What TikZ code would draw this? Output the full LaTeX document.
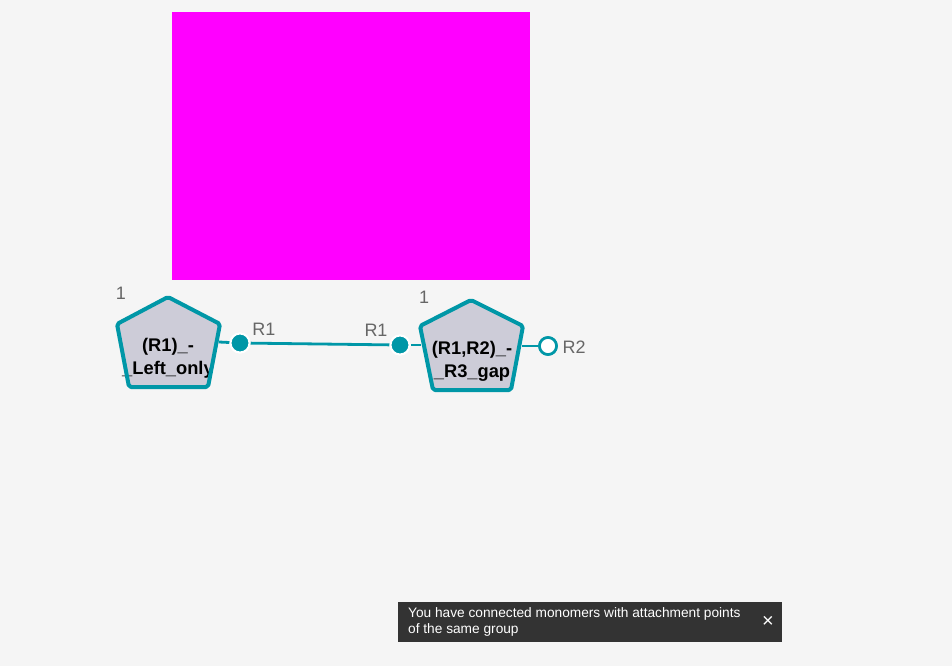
\documentclass[tikz,border=0pt]{standalone}
\usepackage{fontspec}
\setmainfont{Liberation Sans}
\definecolor{bg}{HTML}{F5F5F5}
\definecolor{teal}{HTML}{0097A7}
\definecolor{monofill}{HTML}{CDCCD8}
\definecolor{lbl}{HTML}{666666}
\definecolor{toast}{HTML}{333333}
\definecolor{mag}{HTML}{FF00FF}
\tikzset{
  monofillst/.style={fill=monofill, rounded corners=2pt},
  monoline/.style={draw=teal, line width=4pt, line join=round, rounded corners=2pt},
  monotext/.style={font=\bfseries\fontsize{18.3}{23}\selectfont, align=center, inner sep=0pt},
  bond/.style={draw=teal, line width=2.8pt},
  apfull/.style={circle, fill=teal, draw=white, line width=2pt, minimum size=19pt, inner sep=0pt},
  apopen/.style={circle, fill=white, draw=teal, line width=2.6pt, minimum size=17pt, inner sep=0pt},
  aplabel/.style={text=lbl, font=\fontsize{18}{20}\selectfont, inner sep=0pt},
  toastbox/.style={fill=toast, minimum width=384pt, minimum height=40pt, inner sep=0pt},
  toasttext/.style={text=white, font=\fontsize{13.7}{16}\selectfont, align=left, inner sep=0pt, anchor=north west},
}
\begin{document}
\begin{tikzpicture}[x=1pt,y=-1pt]
\fill[bg] (0,0) rectangle (952,666);
\useasboundingbox (0,0) rectangle (952,666);
\fill[mag] (172,12) rectangle (530,280);
% monomer 1
\path[monofillst] (168,297) -- (220,324) -- (208,387) -- (129,387) -- (117,324) -- cycle;
\node[monotext] (m1) at (168,358) {(R1)\_-\\\_Left\_only};
\path[monoline] (168,297) -- (220,324) -- (208,387) -- (129,387) -- (117,324) -- cycle;
\coordinate (m1r) at (219,342);
% monomer 2
\path[monofillst] (471,300) -- (523,326) -- (511,390) -- (433,390) -- (420,326) -- cycle;
\node[monotext] (m2) at (472,361) {(R1,R2)\_-\\\_R3\_gap};
\path[monoline] (471,300) -- (523,326) -- (511,390) -- (433,390) -- (420,326) -- cycle;
\coordinate (m2l) at (421,345);
\coordinate (m2r) at (522,346);
% attachment points
\node[apfull] (a1) at (240,343) {};
\node[apfull] (a2) at (400,345) {};
\node[apopen] (a3) at (548,346) {};
\draw[bond] (m1r) -- (a1);
\draw[bond] (a1) -- (a2);
\draw[bond] (a2) -- (m2l);
\draw[bond] (m2r) -- (a3);
\node[apfull] at (a1) {};
\node[apfull] at (a2) {};
\node[apopen] at (a3) {};
% labels
\node[aplabel] (l1) at (264,329) {R1};
\node[aplabel] (l2) at (376,330) {R1};
\node[aplabel] (l3) at (574,347) {R2};
\node[aplabel] (n1) at (121,293) {1};
\node[aplabel] (n2) at (424,297) {1};
% toast
\node[toastbox, anchor=north west] (t) at (398,602) {};
\node[toasttext] (tt) at (408,607.5) {You have connected monomers with attachment points\\of the same group};
\node[text=white, font=\fontsize{20}{20}\selectfont, inner sep=0pt] (tx) at (768,622) {×};
\end{tikzpicture}
\end{document}
